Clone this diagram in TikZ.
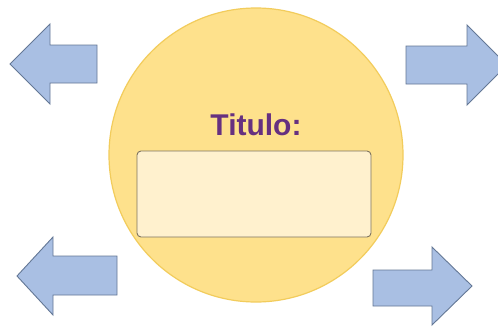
\documentclass[tikz,border=0pt]{standalone}
\usepackage{fontspec}
\setmainfont{Liberation Sans}
\definecolor{arrowfill}{RGB}{169,191,227}
\definecolor{arrowedge}{RGB}{100,120,150}
\definecolor{circfill}{RGB}{254,225,140}
\definecolor{circedge}{RGB}{242,204,92}
\definecolor{boxfill}{RGB}{255,241,206}
\definecolor{boxedge}{RGB}{125,115,95}
\definecolor{titlecol}{RGB}{102,48,128}
\tikzset{
  arrowshape/.style={fill=arrowfill,draw=arrowedge,line width=0.9pt,line join=miter},
  bigcircle/.style={circle,fill=circfill,draw=circedge,line width=1.2pt,minimum size=294pt,inner sep=0pt},
  textbox/.style={rectangle,rounded corners=4pt,fill=boxfill,draw=boxedge,line width=0.9pt,minimum width=234pt,minimum height=86pt,inner sep=0pt},
  titletext/.style={text=titlecol,font=\bfseries\fontsize{30}{36}\selectfont,inner sep=0pt}
}
\begin{document}
\begin{tikzpicture}[x=1pt,y=-1pt]
\useasboundingbox (0,0) rectangle (498,327);
\clip (0,0) rectangle (498,327);
\fill[white] (0,0) rectangle (498,327);
\node[bigcircle] (circ) at (256,155) {};
\node[textbox] (box) at (254,194) {};
\node[titletext,anchor=base] (title) at (256,135) {Titulo:};
% upper-left arrow (left)
\draw[arrowshape] (10,64) -- (50,24) -- (50,45) -- (97,45) -- (97,83) -- (50,83) -- (50,104) -- cycle;
% upper-right arrow (right)
\draw[arrowshape] (406,46) -- (467,46) -- (467,25) -- (507,65) -- (467,105) -- (467,84) -- (406,84) -- cycle;
% lower-left arrow (left)
\draw[arrowshape] (17,276) -- (53,237) -- (53,256) -- (117,256) -- (117,295) -- (53,295) -- (53,315) -- cycle;
% lower-right arrow (right)
\draw[arrowshape] (373,270) -- (432,270) -- (432,247) -- (472,286) -- (432,325) -- (432,306) -- (373,306) -- cycle;
\end{tikzpicture}
\end{document}
